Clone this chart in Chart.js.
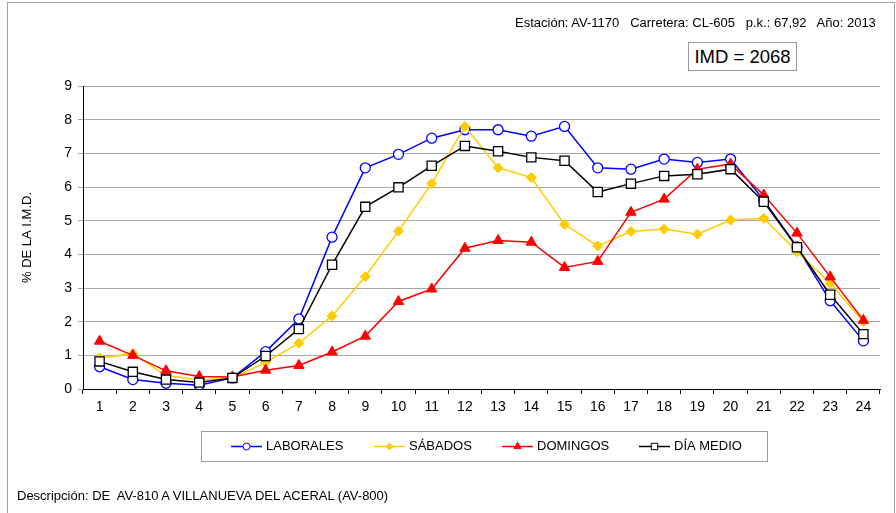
<!DOCTYPE html>
<html>
<head>
<meta charset="utf-8">
<script src="https://cdn.jsdelivr.net/npm/chart.js@4"></script>
<style>
  html, body { margin: 0; padding: 0; background: #fff; }
  #wrap { position: relative; width: 896px; height: 513px; overflow: hidden; font-family: "Liberation Sans", Arial, sans-serif; color: #000; }
  #frame { position: absolute; left: 7px; top: 2px; width: 886px; height: 540px; border: 1px solid #a0a0a0; }
  #header { position: absolute; left: 515px; top: 15px; font-size: 13px; line-height: 15px; white-space: pre; }
  #imd { position: absolute; left: 688px; top: 42px; width: 107px; height: 27px; border: 1px solid #999; font-size: 18.5px; line-height: 27px; text-align: center; background: #fff; }
  #desc { position: absolute; left: 17px; top: 488px; font-size: 13px; line-height: 15px; white-space: pre; }
  canvas { position: absolute; left: 0; top: 0; }
</style>
</head>
<body>
<div id="wrap">
  <div id="frame"></div>
  <canvas id="chart" width="896" height="513"></canvas>
  <div id="header">Estación: AV-1170   Carretera: CL-605   p.k.: 67,92   Año: 2013</div>
  <div id="imd">IMD = 2068</div>
  <div id="desc">Descripción: DE  AV-810 A VILLANUEVA DEL ACERAL (AV-800)</div>
</div>
<script>
// Hourly traffic share (% of IMD) per day type
const horas = ['1','2','3','4','5','6','7','8','9','10','11','12','13','14','15','16','17','18','19','20','21','22','23','24'];
const laborales = [0.66, 0.28, 0.17, 0.11, 0.33, 1.11, 2.08, 4.51, 6.57, 6.97, 7.45, 7.70, 7.70, 7.51, 7.80, 6.57, 6.53, 6.83, 6.73, 6.83, 5.61, 4.22, 2.62, 1.43];
const sabados   = [0.92, 1.05, 0.40, 0.27, 0.33, 0.79, 1.36, 2.17, 3.34, 4.69, 6.10, 7.80, 6.57, 6.28, 4.89, 4.25, 4.68, 4.75, 4.60, 5.02, 5.07, 4.08, 3.14, 2.00];
const domingos  = [1.42, 1.00, 0.54, 0.37, 0.36, 0.56, 0.70, 1.10, 1.57, 2.60, 2.97, 4.18, 4.41, 4.36, 3.61, 3.79, 5.25, 5.64, 6.53, 6.68, 5.76, 4.63, 3.33, 2.04];
const diaMedio  = [0.82, 0.51, 0.28, 0.19, 0.33, 0.98, 1.78, 3.69, 5.41, 5.99, 6.63, 7.22, 7.06, 6.88, 6.78, 5.85, 6.10, 6.33, 6.38, 6.53, 5.56, 4.21, 2.80, 1.63];
const yTicks = [0, 9, 1]; // min, max, step

Chart.defaults.font.family = '"Liberation Sans", Arial, sans-serif';
Chart.defaults.color = '#000';

// Legend drawn inside a framed box below the plot, Excel style
const boxLegend = {
    id: 'boxLegend',
    afterDraw(chart) {
        const ctx = chart.ctx;
        const starts = [231, 374, 502, 639];
        const y = 446.5;
        ctx.save();
        ctx.strokeStyle = '#9a9a9a';
        ctx.lineWidth = 1;
        ctx.strokeRect(201.5, 431.5, 566, 30);
        chart.data.datasets.forEach((ds, i) => {
            const x0 = starts[i];
            ctx.strokeStyle = ds.borderColor;
            ctx.lineWidth = 1.5;
            ctx.beginPath();
            ctx.moveTo(x0, y);
            ctx.lineTo(x0 + 31, y);
            ctx.stroke();
            ctx.fillStyle = ds.pointBackgroundColor;
            ctx.strokeStyle = ds.pointBorderColor;
            ctx.lineWidth = 1;
            Chart.helpers.drawPoint(ctx, { pointStyle: ds.pointStyle, radius: ds.pointRadius * 0.7, borderWidth: 1, rotation: 0 }, x0 + 15.5, y);
            ctx.fillStyle = '#000';
            ctx.font = '13px "Liberation Sans", Arial, sans-serif';
            ctx.textBaseline = 'middle';
            ctx.fillText(ds.label, x0 + 35, y);
        });
        ctx.restore();
    }
};

new Chart(document.getElementById('chart'), {
    type: 'line',
    data: {
        labels: horas,
        datasets: [
            { label: 'LABORALES', data: laborales, order: 4, borderColor: '#0000FF', borderWidth: 1.5,
              pointStyle: 'circle', pointRadius: 5, pointBackgroundColor: '#FFFFFF', pointBorderColor: '#0000FF', pointBorderWidth: 1.3 },
            { label: 'SÁBADOS', data: sabados, order: 3, borderColor: '#FFCC00', borderWidth: 1.5,
              pointStyle: 'rectRot', pointRadius: 5, pointBackgroundColor: '#FFCC00', pointBorderColor: '#FFCC00', pointBorderWidth: 1 },
            { label: 'DOMINGOS', data: domingos, order: 2, borderColor: '#FF0000', borderWidth: 1.5,
              pointStyle: 'triangle', pointRadius: 6, pointBackgroundColor: '#FF0000', pointBorderColor: '#FF0000', pointBorderWidth: 1 },
            { label: 'DÍA MEDIO', data: diaMedio, order: 1, borderColor: '#000000', borderWidth: 1.5,
              pointStyle: 'rect', pointRadius: 6.5, pointBackgroundColor: '#FFFFFF', pointBorderColor: '#000000', pointBorderWidth: 1.3 }
        ]
    },
    options: {
        responsive: false,
        devicePixelRatio: 1,
        animation: false,
        layout: { padding: { left: 0, top: 86, right: 16, bottom: 0 } },
        elements: { line: { tension: 0 } },
        plugins: { legend: { display: false }, tooltip: { enabled: false } },
        scales: {
            x: {
                offset: true,
                grid: { offset: true, drawOnChartArea: false, tickLength: 5, color: '#000' },
                border: { color: '#000', width: 1 },
                ticks: { font: { size: 14 }, padding: 5, maxRotation: 0, autoSkip: false },
                afterFit: s => { s.height = 124; }
            },
            y: {
                min: yTicks[0],
                max: yTicks[1],
                ticks: { stepSize: yTicks[2], font: { size: 14 }, padding: 6 },
                grid: { color: '#a6a6a6', tickLength: 5 },
                border: { color: '#000', width: 1 },
                title: { display: true, text: '% DE LA I.M.D.', font: { size: 13 }, padding: { top: 20, bottom: 0 } },
                afterFit: s => { s.width = 83; }
            }
        }
    },
    plugins: [boxLegend]
});
</script>
</body>
</html>
